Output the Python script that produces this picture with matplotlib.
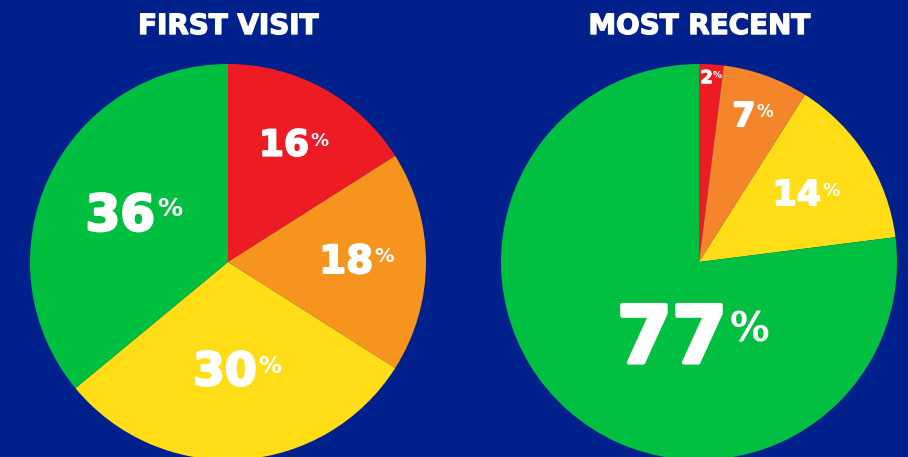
import numpy as np
import matplotlib.pyplot as plt
import matplotlib.patheffects as pe

# data
titles = ["FIRST VISIT", "MOST RECENT"]
first_visit = [16, 18, 30, 36]
most_recent = [2, 7, 14, 77]
first_colors = ["#ED1C24", "#F7941D", "#FFDD17", "#00BF3F"]
recent_colors = ["#ED1C24", "#F5852A", "#FFDD17", "#00BF41"]

# label style (radius fraction, font size) per wedge
first_r = [0.67, 0.64, 0.56, 0.54]
first_size = [26, 28, 33, 36]
recent_r = [0.93, 0.78, 0.63, 0.40]
recent_size = [13, 24, 25, 57]

bg = "#00208C"
W, H = 908, 457
R = 198

fig = plt.figure(figsize=(W / 100, H / 100), dpi=100)
fig.patch.set_facecolor(bg)


def draw_pie(cx, cy, values, colors, rfrac, sizes, title, angle_fix=None):
    half = 202
    ax = fig.add_axes([(cx - half) / W, (H - cy - half) / H, 2 * half / W, 2 * half / H])
    ax.set_facecolor(bg)
    ax.pie(values, colors=colors, startangle=90, counterclock=False,
           radius=1.0, wedgeprops=dict(linewidth=0))
    lim = half / R
    ax.set_xlim(-lim, lim)
    ax.set_ylim(-lim, lim)
    ax.axis("off")

    total = sum(values)
    start = 90.0
    for i, v in enumerate(values):
        mid = start - v / total * 360 / 2
        start -= v / total * 360
        if angle_fix and i in angle_fix:
            mid = angle_fix[i]
        x = rfrac[i] * np.cos(np.radians(mid))
        y = rfrac[i] * np.sin(np.radians(mid))
        s = sizes[i]
        thick = [pe.withStroke(linewidth=s * 0.05, foreground="white")]
        t = ax.annotate(str(v), xy=(x, y), xytext=(-0.22 * s, 0), textcoords="offset points",
                        ha="center", va="center", color="white", fontsize=s,
                        fontweight="bold", family="DejaVu Sans", path_effects=thick)
        ax.annotate("%", xy=(1.03, 0.9), xycoords=t,
                    ha="left", va="top", color="white", fontsize=s * 0.5,
                    fontweight="bold", family="DejaVu Sans")

    fig.text(cx / W, 1 - 26 / H, title, ha="center", va="center", color="white",
             fontsize=20, fontweight="heavy", family="DejaVu Sans",
             path_effects=[pe.withStroke(linewidth=1.0, foreground="white")])


draw_pie(228, 262, first_visit, first_colors, first_r, first_size, titles[0])
draw_pie(699, 262, most_recent, recent_colors, recent_r, recent_size, titles[1],
         angle_fix={3: -97})

fig.savefig("out.png", dpi=100, facecolor=bg)
